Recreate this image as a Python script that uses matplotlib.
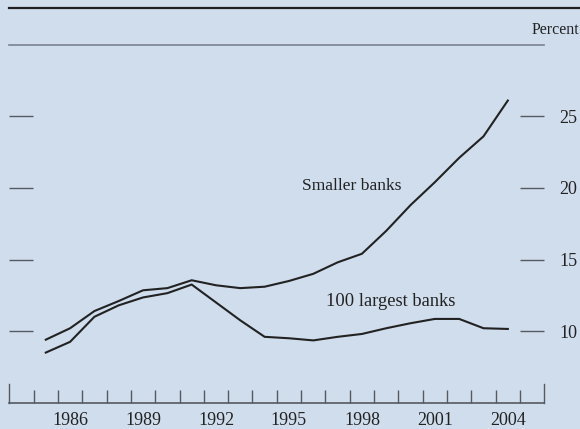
import matplotlib
matplotlib.use("Agg")
import matplotlib.pyplot as plt
from matplotlib.lines import Line2D

# data (percent), one point per year
years = list(range(1985, 2005))
smaller_banks = [9.4, 10.2, 11.4, 12.1, 12.85, 13.0, 13.55, 13.2, 13.0, 13.1,
                 13.5, 14.0, 14.8, 15.4, 17.0, 18.8, 20.4, 22.1, 23.6, 26.1]
largest_banks = [8.5, 9.25, 11.0, 11.8, 12.35, 12.65, 13.25, 12.0, 10.75, 9.6,
                 9.5, 9.35, 9.6, 9.8, 10.2, 10.55, 10.85, 10.85, 10.2, 10.15]
year_labels = [1986, 1989, 1992, 1995, 1998, 2001, 2004]
y_ticks = [10, 15, 20, 25]

bg = "#cfdded"
plt.rcParams["font.family"] = ["Liberation Serif", "DejaVu Serif"]

fig = plt.figure(figsize=(5.8, 4.29), dpi=100, facecolor=bg)
ax = fig.add_axes([9.3 / 580, 26.3 / 429, 535 / 580, 358 / 429])
ax.set_facecolor(bg)

# points sit in the middle of each year
x = [y + 0.5 for y in years]
ax.plot(x, smaller_banks, color="#222222", lw=1.5, solid_joinstyle="miter")
ax.plot(x, largest_banks, color="#222222", lw=1.5, solid_joinstyle="miter")

ax.set_xlim(1984, 2006)
ax.set_ylim(5, 30)

# spines
ax.spines["top"].set_color("#7a8290")
ax.spines["top"].set_linewidth(1.2)
ax.spines["bottom"].set_color("#555a62")
ax.spines["bottom"].set_linewidth(1.2)
for side in ["left", "right"]:
    ax.spines[side].set_color("#555a62")
    ax.spines[side].set_linewidth(1.0)
    ax.spines[side].set_bounds(5, 6.3)

# x axis: ticks at year boundaries, labels centered in the year
ax.set_xticks([y + 0.5 for y in year_labels])
ax.set_xticklabels([str(y) for y in year_labels], fontsize=13, color="#222222")
ax.set_xticks(list(range(1985, 2006)), minor=True)
ax.tick_params(axis="x", which="major", length=0, pad=7)
ax.tick_params(axis="x", which="minor", direction="in", length=9.4,
               width=1.0, color="#555a62")

# y axis: ticks on both sides, labels on the right
ax.set_yticks(y_ticks)
ax.set_yticklabels([str(v) for v in y_ticks], fontsize=13, color="#222222")
ax.tick_params(axis="y", left=True, right=True, labelleft=False, labelright=True,
               direction="in", length=17.3, width=1.0, color="#555a62", pad=10.8)

ax.text(1996.04, 20.1, "Smaller banks", fontsize=12.6, color="#222222", va="center")
ax.text(1997.02, 12.1, "100 largest banks", fontsize=13.3, color="#222222", va="center")

fig.text(579 / 580, (429 - 30) / 429, "Percent", fontsize=11.5, color="#222222",
         ha="right", va="center")
fig.add_artist(Line2D([9.3 / 580, 1], [(429 - 8) / 429] * 2, color="#1e1f22", lw=1.6,
                      transform=fig.transFigure))

fig.savefig("out.png", dpi=100, facecolor=bg)
